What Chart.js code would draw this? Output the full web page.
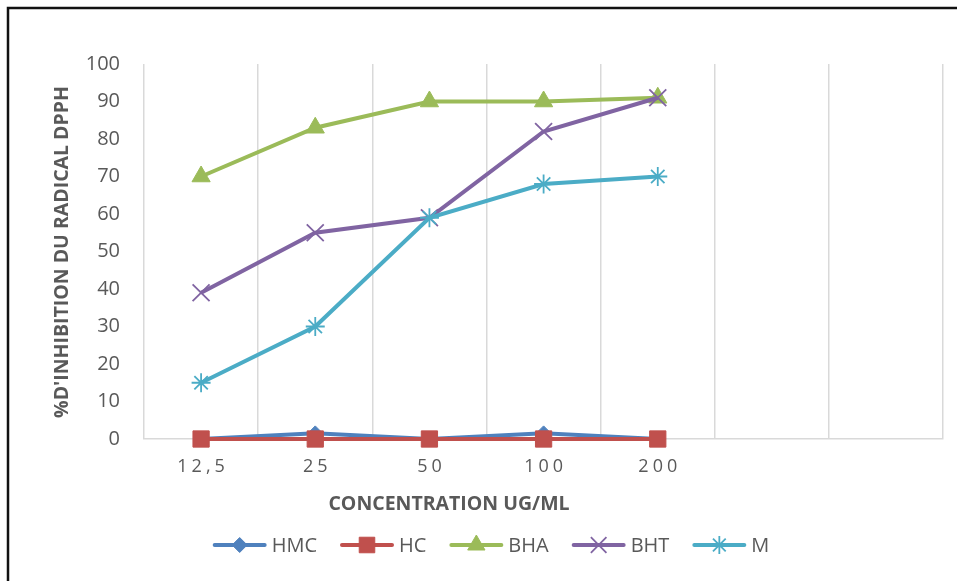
<!DOCTYPE html>
<html>
<head>
<meta charset="utf-8">
<script src="https://cdn.jsdelivr.net/npm/chart.js@4.4.1/dist/chart.umd.min.js"></script>
<style>
  html, body { margin: 0; padding: 0; background: #ffffff; }
  #wrap { position: relative; width: 957px; height: 581px; }
</style>
</head>
<body>
<div id="wrap"><canvas id="c" width="957" height="581"></canvas></div>
<script>
// Concentrations (two trailing empty columns on the axis)
const categories = ['12,5', '25', '50', '100', '200', '', ''];

// % inhibition of the DPPH radical per sample
const hmcValues = [0, 1.5, 0, 1.5, 0];
const hcValues  = [0, 0, 0, 0, 0];
const bhaValues = [70, 83, 90, 90, 91];
const bhtValues = [39, 55, 59, 82, 91];
const mValues   = [15, 30, 59, 68, 70];

const seriesNames = ['HMC', 'HC', 'BHA', 'BHT', 'M'];
const yTicks = { min: 0, max: 100, step: 10 };
const yTitle = "%D'INHIBITION DU RADICAL DPPH";
const xTitle = 'CONCENTRATION UG/ML';

const TEXT = '#595959';
const GRID = '#d9d9d9';
const FONT = "'Open Sans', 'DejaVu Sans', sans-serif";

// Category axis whose tick labels are drawn with letter spacing
class SpacedCategoryScale extends Chart.CategoryScale {
  drawLabels(area) {
    const ctx = this.ctx;
    ctx.save();
    ctx.letterSpacing = '4px';
    ctx.translate(2, 0);
    super.drawLabels(area);
    ctx.restore();
  }
}
SpacedCategoryScale.id = 'spacedCategory';
SpacedCategoryScale.defaults = Chart.CategoryScale.defaults;
Chart.register(SpacedCategoryScale);

function series(label, data, color, pointStyle, radius, pointBorderWidth, order, legendRadius) {
  return {
    label, data,
    borderColor: color,
    backgroundColor: color,
    pointBackgroundColor: color,
    pointBorderColor: color,
    borderWidth: 4,
    pointStyle,
    pointRadius: radius,
    pointHoverRadius: radius,
    pointBorderWidth,
    legendRadius,
    tension: 0,
    clip: false,
    order
  };
}

const datasets = [
  series(seriesNames[0], hmcValues, '#4f81bd', 'rectRot', 7.5, 1, 5, 7.5),
  series(seriesNames[1], hcValues,  '#c0504d', 'rect', 11.5, 1, 4, 11),
  series(seriesNames[2], bhaValues, '#9bbb59', 'triangle', 10.5, 1, 3, 10),
  series(seriesNames[3], bhtValues, '#8064a2', 'crossRot', 12, 1.8, 2, 11),
  series(seriesNames[4], mValues,   '#4bacc6', 'star', 9.5, 1.8, 1, 9)
];

// Outer frame lines along the top and left
const framePlugin = {
  id: 'frame',
  beforeDraw(chart) {
    const ctx = chart.ctx;
    ctx.save();
    ctx.strokeStyle = '#111111';
    ctx.lineWidth = 2.5;
    ctx.beginPath();
    ctx.moveTo(8, 600);
    ctx.lineTo(8, 8);
    ctx.lineTo(1000, 8);
    ctx.stroke();
    ctx.restore();
  }
};

// Axis titles and a legend showing line + marker per series
const decorPlugin = {
  id: 'decor',
  afterDraw(chart) {
    const ctx = chart.ctx;
    ctx.save();
    ctx.fillStyle = TEXT;
    ctx.font = 'bold 19.5px ' + FONT;
    ctx.textAlign = 'center';
    ctx.textBaseline = 'middle';
    ctx.fillText(xTitle, 449, 504);

    ctx.save();
    ctx.translate(62, 252);
    ctx.rotate(-Math.PI / 2);
    ctx.fillText(yTitle, 0, 0);
    ctx.restore();

    // legend
    const lineLen = 54, gap = 5, spacing = 23, cy = 545, centerX = 491;
    ctx.font = '20px ' + FONT;
    const widths = chart.data.datasets.map(d => lineLen + gap + ctx.measureText(d.label).width);
    const total = widths.reduce((a, b) => a + b, 0) + spacing * (widths.length - 1);
    let x = centerX - total / 2;
    chart.data.datasets.forEach((d, i) => {
      ctx.strokeStyle = d.borderColor;
      ctx.lineWidth = 4;
      ctx.lineCap = 'round';
      ctx.beginPath();
      ctx.moveTo(x + 2, cy);
      ctx.lineTo(x + lineLen - 2, cy);
      ctx.stroke();
      ctx.lineCap = 'butt';
      ctx.fillStyle = d.pointBackgroundColor;
      ctx.strokeStyle = d.pointBorderColor;
      ctx.lineWidth = d.pointBorderWidth;
      Chart.helpers.drawPoint(ctx, {
        pointStyle: d.pointStyle,
        radius: d.legendRadius,
        rotation: 0,
        borderWidth: d.pointBorderWidth
      }, x + lineLen / 2, cy);
      ctx.fillStyle = TEXT;
      ctx.textAlign = 'left';
      ctx.fillText(d.label, x + lineLen + gap, cy + 1);
      x += widths[i] + spacing;
    });
    ctx.restore();
  }
};

new Chart(document.getElementById('c'), {
  type: 'line',
  data: { labels: categories, datasets },
  options: {
    responsive: false,
    animation: false,
    events: [],
    layout: { padding: { top: 64, right: 13, left: 0, bottom: 0 } },
    plugins: { legend: { display: false }, tooltip: { enabled: false } },
    scales: {
      x: {
        type: 'spacedCategory',
        offset: true,
        grid: { display: true, offset: true, color: GRID, lineWidth: 1.5, drawTicks: false },
        border: { display: true, color: GRID, width: 1.5 },
        ticks: { color: TEXT, font: { family: FONT, size: 18 }, padding: 17, maxRotation: 0, autoSkip: false },
        afterFit(scale) { scale.height = 142; }
      },
      y: {
        min: yTicks.min,
        max: yTicks.max,
        grid: { display: false, drawTicks: false },
        border: { display: false },
        ticks: { stepSize: yTicks.step, color: TEXT, font: { family: FONT, size: 20 }, padding: 24 },
        afterFit(scale) { scale.width = 144; }
      }
    }
  },
  plugins: [framePlugin, decorPlugin]
});
</script>
</body>
</html>
